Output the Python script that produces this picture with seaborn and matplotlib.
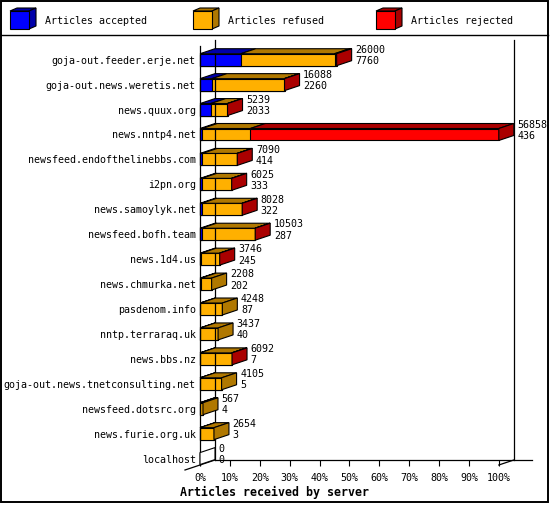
import numpy as np
import pandas as pd
import matplotlib
matplotlib.use("Agg")
import matplotlib.pyplot as plt
from matplotlib.patches import Polygon, Rectangle
import seaborn as sns

# ---------------- data ----------------
servers = [
    "goja-out.feeder.erje.net",
    "goja-out.news.weretis.net",
    "news.quux.org",
    "news.nntp4.net",
    "newsfeed.endofthelinebbs.com",
    "i2pn.org",
    "news.samoylyk.net",
    "newsfeed.bofh.team",
    "news.1d4.us",
    "news.chmurka.net",
    "pasdenom.info",
    "nntp.terraraq.uk",
    "news.bbs.nz",
    "goja-out.news.tnetconsulting.net",
    "newsfeed.dotsrc.org",
    "news.furie.org.uk",
    "localhost",
]
offered = [26000, 16088, 5239, 56858, 7090, 6025, 8028, 10503, 3746,
           2208, 4248, 3437, 6092, 4105, 567, 2654, 0]
accepted = [7760, 2260, 2033, 436, 414, 333, 322, 287, 245,
            202, 87, 40, 7, 5, 4, 3, 0]
rejected = [400, 60, 40, 47286, 50, 30, 30, 40, 20,
            0, 0, 0, 60, 0, 0, 0, 0]
refused = [o - a - r for o, a, r in zip(offered, accepted, rejected)]

series_names = ["Articles accepted", "Articles refused", "Articles rejected"]
front_colors = ["#0000FF", "#FFB000", "#FF0000"]
dark_colors = ["#0000AA", "#B07800", "#AA0000"]
tick_values = list(range(0, 101, 10))
x_label = "Articles received by server"

# ---------------- figure geometry ----------------
W, H = 550, 505
px0, px100 = 200.0, 498.8        # pixel x of 0% / 100%
py_top, py_floor = 40.0, 460.0   # pixel y of back wall top / back floor
row0, row_step = 59.7, 24.93     # pixel y of first row centre, row spacing
depth_x, depth_y = 15.0, 5.0     # 3-D depth in pixels
bar_w = 0.48

FONT = ["DejaVu Sans Mono"]
plt.rcParams["font.family"] = FONT

fig = plt.figure(figsize=(W / 100, H / 100), dpi=100)
fig.patch.set_facecolor("white")

# background decoration axes (pixel coordinates)
ax0 = fig.add_axes([0, 0, 1, 1])
ax0.set_xlim(0, W)
ax0.set_ylim(H, 0)
ax0.axis("off")
ax0.add_patch(Rectangle((1, 1), 547, 501, fill=False, ec="black", lw=1.4))
ax0.plot([1, 548], [35, 35], color="black", lw=1.0)

# legend
leg_x = [10, 193, 376]
for lx, name, fc, dc in zip(leg_x, series_names, front_colors, dark_colors):
    ax0.add_patch(Polygon([(lx, 11), (lx + 19, 11), (lx + 26, 8), (lx + 7, 8)],
                          closed=True, fc=dc, ec="black", lw=0.8))
    ax0.add_patch(Polygon([(lx + 19, 11), (lx + 19, 29), (lx + 26, 26), (lx + 26, 8)],
                          closed=True, fc=dc, ec="black", lw=0.8))
    ax0.add_patch(Rectangle((lx, 11), 19, 18, fc=fc, ec="black", lw=0.8))
    ax0.text(lx + 35, 20.5, name, fontsize=7.2, va="center", ha="left",
             family=FONT)

# main axes
ax = fig.add_axes([px0 / W, 1 - py_floor / H, (px100 - px0) / W,
                   (py_floor - py_top) / H])
ax.patch.set_alpha(0)

vmax = max(offered)
pct = lambda arr: np.array(arr, dtype=float) / vmax * 100.0
acc_p = pct(accepted)
ref_p = pct(refused)
rej_p = pct(rejected)
tot_p = acc_p + ref_p + rej_p

df = pd.DataFrame({
    "server": servers,
    "total": tot_p,
    "acc_ref": acc_p + ref_p,
    "acc": acc_p,
})

for col, c in [("total", front_colors[2]), ("acc_ref", front_colors[1]),
               ("acc", front_colors[0])]:
    sns.barplot(data=df, x=col, y="server", orient="h", color=c,
                saturation=1, edgecolor="black", linewidth=0.8,
                width=bar_w, errorbar=None, ax=ax, clip_on=False)

DX = depth_x / (px100 - px0) * 100.0
DY = depth_y / row_step

segs = [acc_p, ref_p, rej_p]
for i in range(len(servers)):
    yt = i - bar_w / 2
    yb = i + bar_w / 2
    start = 0.0
    last_dark = "white"
    for k in range(3):
        v = segs[k][i]
        if v > 0:
            e = start + v
            ax.add_patch(Polygon([(start, yt), (e, yt), (e + DX, yt - DY),
                                  (start + DX, yt - DY)], closed=True,
                                 fc=dark_colors[k], ec="black", lw=0.8,
                                 clip_on=False, zorder=3))
            start = e
            last_dark = dark_colors[k]
    xe = tot_p[i]
    ax.add_patch(Polygon([(xe, yt), (xe, yb), (xe + DX, yb - DY),
                          (xe + DX, yt - DY)], closed=True,
                         fc=last_dark, ec="black", lw=0.8,
                         clip_on=False, zorder=3))
    ax.text(xe + DX + 1.2, i - 0.39, str(offered[i]), fontsize=7.2,
            va="center", ha="left", family=FONT, clip_on=False)
    ax.text(xe + DX + 1.2, i + 0.06, str(accepted[i]), fontsize=7.2,
            va="center", ha="left", family=FONT, clip_on=False)

# limits
y_top = (py_top - row0) / row_step
y_back_floor = (py_floor - row0) / row_step
y_front_floor = y_back_floor + DY
ax.set_xlim(0, 100)
ax.set_ylim(y_back_floor, y_top)

# frame lines
lk = dict(color="black", lw=0.9, clip_on=False, zorder=2)
ax.plot([0, 0], [(46 - row0) / row_step, y_front_floor], **lk)
ax.plot([DX, DX], [y_top, y_back_floor], **lk)
ax.plot([100 + DX, 100 + DX], [y_top, y_back_floor], **lk)
ax.plot([DX, (532 - px0) / (px100 - px0) * 100], [y_back_floor, y_back_floor], **lk)
ax.plot([-DX, DX], [y_front_floor + DY, y_back_floor], **lk)
ax.plot([100, 100 + DX], [y_front_floor, y_back_floor], **lk)

for s in ax.spines.values():
    s.set_visible(False)

ax.set_xticks(tick_values)
ax.set_xticklabels([f"{v}%" for v in tick_values], fontsize=7.2, family=FONT)
ax.tick_params(axis="x", direction="out", length=4.3, width=0.8, pad=4.8)
ax.tick_params(axis="y", length=0, pad=3.0, labelsize=7.2)
for t in ax.get_yticklabels():
    t.set_family(FONT)
ax.set_xlabel("")
ax.set_ylabel("")

fig.text(274 / W, 1 - 492 / H, x_label, ha="center", va="center",
         fontsize=8.4, fontweight="bold", family=FONT)

fig.savefig("out.png", dpi=100)
